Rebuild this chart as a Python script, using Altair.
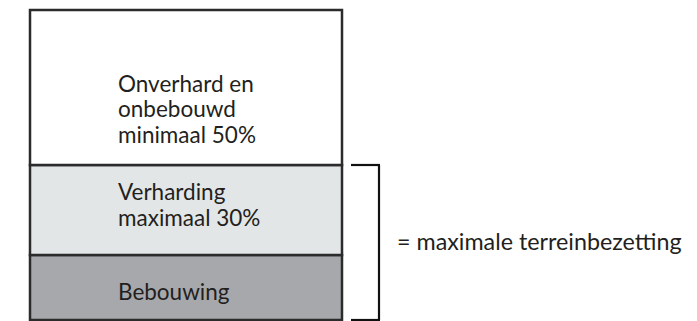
import altair as alt
import pandas as pd

categories = ["Bebouwing", "Verharding", "Onverhard en onbebouwd"]
values = [21, 29, 50]
labels = ["Bebouwing", "Verharding\nmaximaal 30%", "Onverhard en\nonbebouwd\nminimaal 50%"]
order = [1, 2, 3]
fills = ["#a7a8ab", "#e3e6e7", "#ffffff"]
bracket_categories = ["Bebouwing", "Verharding"]
bracket_label = "= maximale terreinbezetting"

df = pd.DataFrame({"cat": categories, "value": values, "label": labels, "order": order})

FONT = "Lato"
FS = 22.5
TXT = "#231f20"

base = alt.Chart(df).transform_window(
    y1="sum(value)", sort=[alt.SortField("order")], frame=[None, 0]
).transform_calculate(
    y0="datum.y1 - datum.value", ymid="(datum.y0 + datum.y1) / 2"
)

yscale = alt.Scale(domain=[0, 100], range=[312, 2])

bars = base.mark_bar(stroke="#2b2b2b", strokeWidth=2.5).encode(
    x=alt.X("k:N", axis=None, scale=alt.Scale(range=[22, 334], paddingInner=0, paddingOuter=0)),
    y=alt.Y("y0:Q", axis=None, scale=yscale),
    y2="y1:Q",
    fill=alt.Fill("cat:N", scale=alt.Scale(domain=categories, range=fills), legend=None),
).transform_calculate(k="'bar'")

def lab(cat, dy):
    return base.transform_filter(alt.datum.cat == cat).mark_text(
        align="left", baseline="middle", font=FONT, fontSize=FS, color=TXT,
        lineBreak="\n", lineHeight=25.5, dy=dy
    ).encode(
        x=alt.value(110),
        y=alt.Y("ymid:Q", scale=yscale),
        text="label:N",
    )

texts = lab(categories[0], 5.5) + lab(categories[1], -16.5) + lab(categories[2], -3)

br = base.transform_filter(
    alt.FieldOneOfPredicate(field="cat", oneOf=bracket_categories)
).transform_aggregate(
    lo="min(y0)", hi="max(y1)"
).transform_calculate(mid="(datum.lo + datum.hi) / 2")

rule_style = dict(color="#111111", strokeWidth=2.2)
top_rule = br.mark_rule(**rule_style).encode(
    x=alt.value(343), x2=alt.value(372), y=alt.Y("hi:Q", scale=yscale))
bot_rule = br.mark_rule(**rule_style).encode(
    x=alt.value(343), x2=alt.value(372), y=alt.Y("lo:Q", scale=yscale))
vert_rule = br.mark_rule(**rule_style).encode(
    x=alt.value(371), y=alt.Y("lo:Q", scale=yscale), y2="hi:Q")
br_text = br.mark_text(
    align="left", baseline="middle", font=FONT, fontSize=FS + 0.8, color=TXT
).encode(x=alt.value(389), y=alt.Y("mid:Q", scale=yscale), text=alt.value(bracket_label))

chart = alt.layer(bars, texts, top_rule, bot_rule, vert_rule, br_text).properties(
    width=681, height=313, padding=0, autosize=alt.AutoSizeParams(type="none"),
    background="white"
).configure_view(stroke=None)

chart.save("out.html", embed_options={"renderer": "svg", "actions": False})
